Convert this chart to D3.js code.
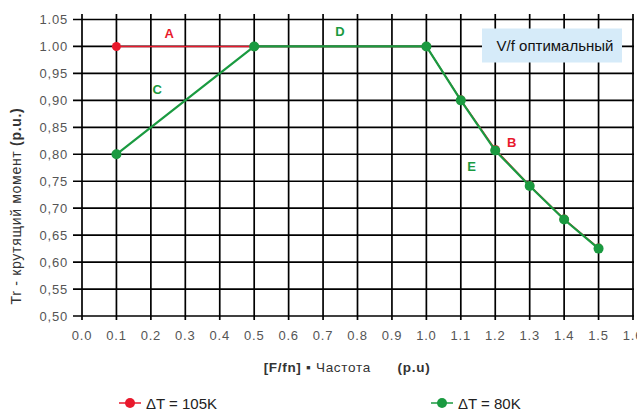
<!DOCTYPE html>
<html>
<head>
<meta charset="utf-8">
<script src="https://cdn.jsdelivr.net/npm/d3@7"></script>
<style>
  body { margin: 0; background: #fff; }
  text { font-family: "Liberation Sans", Arial, sans-serif; }
</style>
</head>
<body>
<div id="chart"></div>
<script>
// frequency (p.u.)
var freq = [0.1, 0.5, 1.0, 1.1, 1.2, 1.3, 1.4, 1.5];
// torque, dT = 105K (red) and dT = 80K (green)
var torque105 = [1.00, 1.00, 1.00, 0.901, 0.809, 0.742, 0.680, 0.626];
var torque80 = [0.80, 1.00, 1.00, 0.900, 0.807, 0.741, 0.679, 0.625];

var xTicks = d3.range(0, 17).map(function (i) { return i / 10; });
var yTicks = d3.range(0, 12).map(function (i) { return 0.5 + i * 0.05; });
var yTickLabels = ["0,50", "0,55", "0,60", "0,65", "0,70", "0,75", "0,80", "0,85", "0,90", "0,95", "1.00", "1.05"];

// segment letters
var segLabels = [
  { t: "A", x: 0.253, y: 1.015, c: "#e8192c" },
  { t: "C", x: 0.218, y: 0.911, c: "#1a9a40" },
  { t: "D", x: 0.749, y: 1.019, c: "#1a9a40" },
  { t: "B", x: 1.248, y: 0.814, c: "#e8192c" },
  { t: "E", x: 1.131, y: 0.769, c: "#1a9a40" }
];

var red = "#e8192c", green = "#1a9a40";

var svg = d3.select("#chart").append("svg")
  .attr("width", 637).attr("height", 410);

var x = d3.scaleLinear().domain([0, 1.6]).range([82, 633]);
var y = d3.scaleLinear().domain([0.5, 1.05]).range([316, 19.5]);

// grid
svg.append("g").selectAll("line").data(xTicks).enter().append("line")
  .attr("x1", function (d) { return x(d); }).attr("x2", function (d) { return x(d); })
  .attr("y1", 14).attr("y2", 320)
  .attr("stroke", "#000").attr("stroke-width", 1.7);
svg.append("g").selectAll("line").data(yTicks).enter().append("line")
  .attr("y1", function (d) { return y(d); }).attr("y2", function (d) { return y(d); })
  .attr("x1", 73).attr("x2", 634)
  .attr("stroke", "#000").attr("stroke-width", 1.7);

// tick labels
svg.append("g").selectAll("text").data(yTicks).enter().append("text")
  .attr("x", 68).attr("y", function (d) { return y(d) + 4.5; })
  .attr("text-anchor", "end")
  .style("font-size", "13px").style("letter-spacing", "0.8px").style("fill", "#555")
  .text(function (d, i) { return yTickLabels[i]; });
svg.append("g").selectAll("text").data(xTicks).enter().append("text")
  .attr("x", function (d) { return x(d); }).attr("y", 340)
  .attr("text-anchor", "middle")
  .style("font-size", "13px").style("letter-spacing", "0.8px").style("fill", "#555")
  .text(function (d) { return d.toFixed(1); });

// info box
svg.append("rect").attr("x", 482).attr("y", 28.5).attr("width", 140).attr("height", 34)
  .attr("fill", "#d6ebf9");
svg.append("text").attr("x", 555).attr("y", 50.5).attr("text-anchor", "middle")
  .style("font-size", "15px").style("fill", "#111")
  .text("V/f оптимальный");

// series
var line = d3.line()
  .x(function (d) { return x(d[0]); })
  .y(function (d) { return y(d[1]); });

function drawSeries(vals, color, r, w) {
  var pts = freq.map(function (f, i) { return [f, vals[i]]; });
  svg.append("path").datum(pts).attr("d", line)
    .attr("fill", "none").attr("stroke", color).attr("stroke-width", w);
  svg.append("g").selectAll("circle").data(pts).enter().append("circle")
    .attr("cx", function (d) { return x(d[0]); })
    .attr("cy", function (d) { return y(d[1]); })
    .attr("r", r).attr("fill", color);
}
drawSeries(torque105, red, 4.5, 1.5);
drawSeries(torque80, green, 5, 2.2);

svg.append("g").selectAll("text").data(segLabels).enter().append("text")
  .attr("x", function (d) { return x(d.x); })
  .attr("y", function (d) { return y(d.y); })
  .attr("text-anchor", "middle")
  .style("font-size", "13px").style("font-weight", "bold")
  .style("fill", function (d) { return d.c; })
  .text(function (d) { return d.t; });

// axis titles
var yt = svg.append("text")
  .attr("transform", "translate(21,206) rotate(-90)")
  .attr("text-anchor", "middle")
  .style("font-size", "14px").style("letter-spacing", "0.7px").style("fill", "#333");
yt.append("tspan").text("Tr - крутящий  момент  ");
yt.append("tspan").style("font-weight", "bold").text("(p.u.)");

var xt = svg.append("text")
  .attr("x", 347).attr("y", 372)
  .attr("text-anchor", "middle")
  .style("font-size", "13.5px").style("letter-spacing", "0.7px").style("fill", "#333")
  .attr("xml:space", "preserve");
xt.append("tspan").style("font-weight", "bold").text("[F/fn] ");
xt.append("tspan").text("▪ Частота      ");
xt.append("tspan").style("font-weight", "bold").text("(p.u)");

// legend
var legend = [
  { label: "\u0394T = 105K", color: red, x0: 119 },
  { label: "\u0394T = 80K", color: green, x0: 431 }
];
var lg = svg.append("g").selectAll("g").data(legend).enter().append("g");
lg.append("line")
  .attr("x1", function (d) { return d.x0; }).attr("x2", function (d) { return d.x0 + 22; })
  .attr("y1", 403).attr("y2", 403)
  .attr("stroke", function (d) { return d.color; }).attr("stroke-width", 1.5);
lg.append("circle")
  .attr("cx", function (d) { return d.x0 + 11; }).attr("cy", 403).attr("r", 5)
  .attr("fill", function (d) { return d.color; });
lg.append("text")
  .attr("x", function (d) { return d.x0 + 27; }).attr("y", 408.5)
  .style("font-size", "15px").style("fill", "#222")
  .text(function (d) { return d.label; });
</script>
</body>
</html>
